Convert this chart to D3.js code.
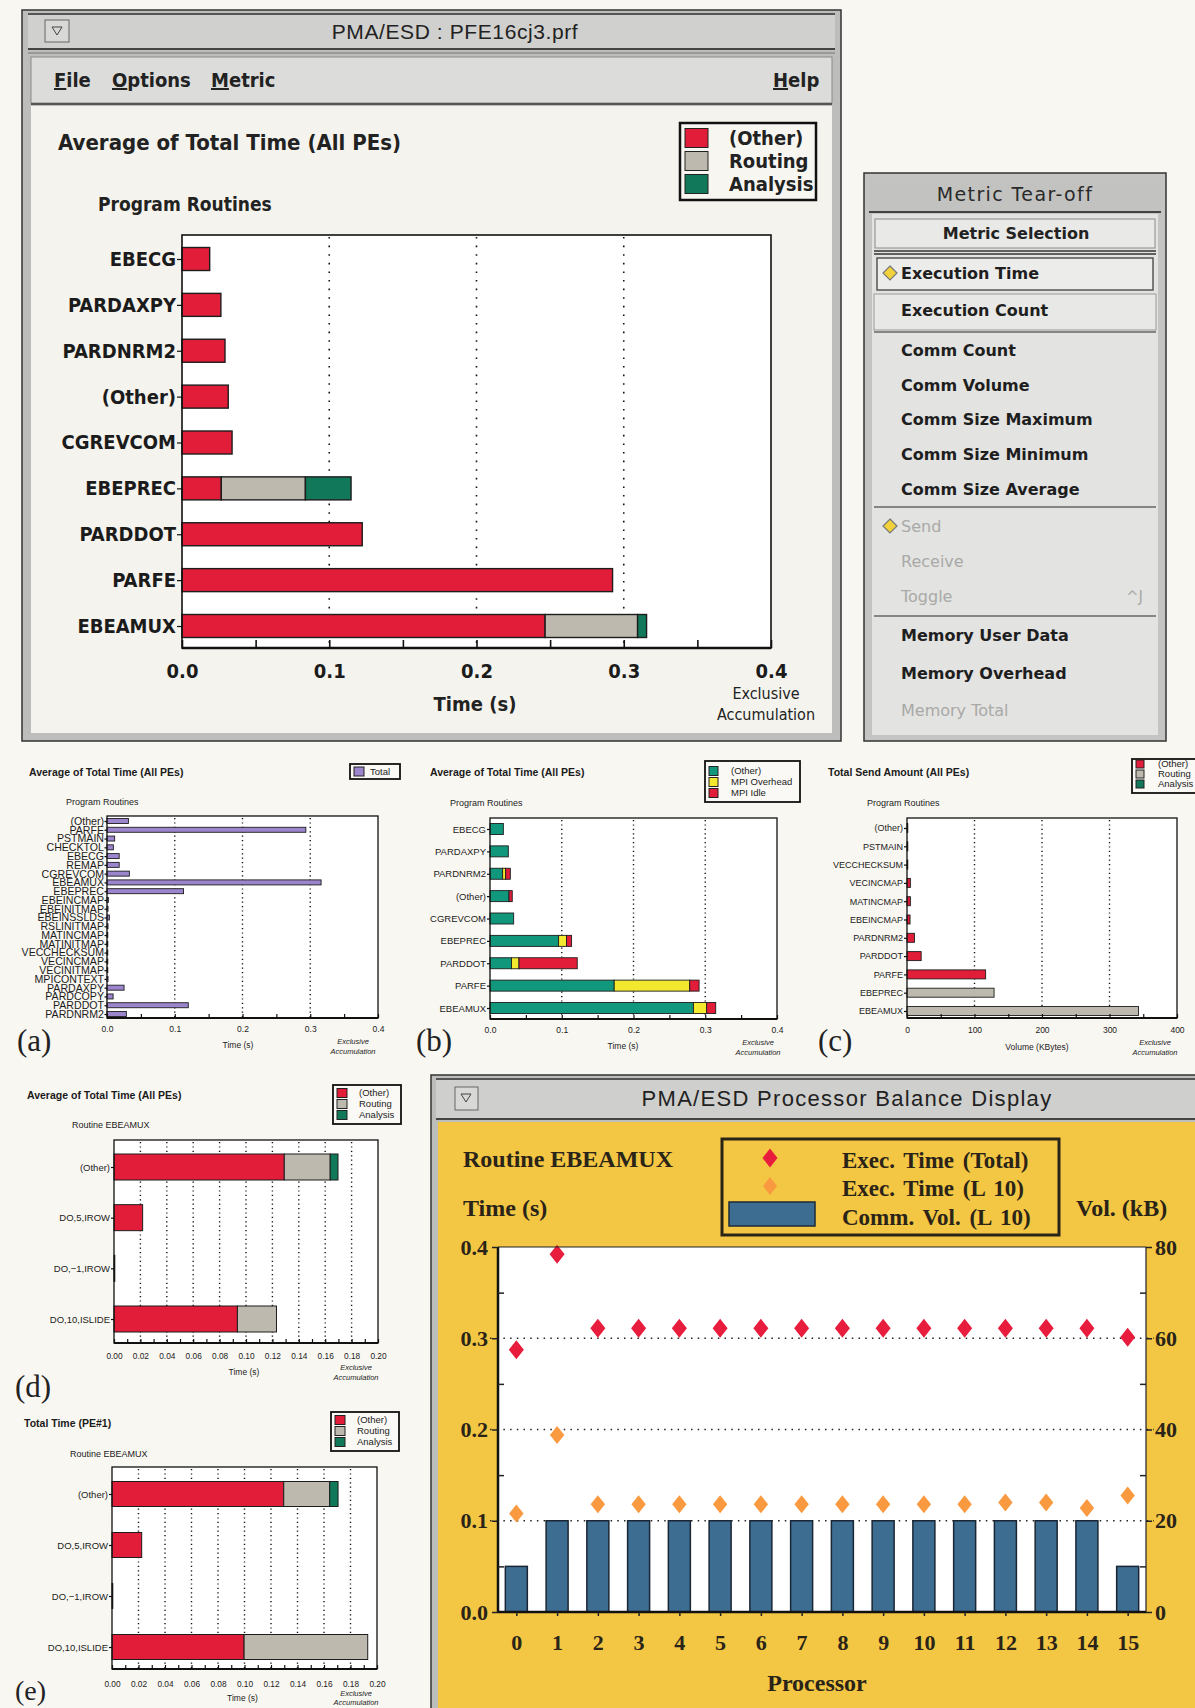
<!DOCTYPE html>
<html>
<head>
<meta charset="utf-8">
<script src="https://cdn.jsdelivr.net/npm/d3@7"></script>
<style>
  html, body { margin: 0; padding: 0; background: #f9f7f2; }
  svg { display: block; }
</style>
</head>
<body>
<svg id="fig" width="1195" height="1708"></svg>
<script>
// ---------------- data ----------------
// Main window: average of total time per routine (s), split by category
const mainRoutines = ["EBECG", "PARDAXPY", "PARDNRM2", "(Other)", "CGREVCOM", "EBEPREC", "PARDDOT", "PARFE", "EBEAMUX"];
const mainOther    = [0.0188, 0.0264, 0.0292, 0.0314, 0.0340, 0.0267, 0.1224, 0.2924, 0.2466];
const mainRouting  = [0, 0, 0, 0, 0, 0.0571, 0, 0, 0.0628];
const mainAnalysis = [0, 0, 0, 0, 0, 0.0310, 0, 0, 0.0061];
const timeTicks    = [0, 0.1, 0.2, 0.3, 0.4];

// (a) total time per routine
const aRoutines = ["(Other)", "PARFE", "PSTMAIN", "CHECKTOL", "EBECG", "REMAP", "CGREVCOM", "EBEAMUX", "EBEPREC",
  "EBEINCMAP", "EBEINITMAP", "EBEINSSLDS", "RSLINITMAP", "MATINCMAP", "MATINITMAP", "VECCHECKSUM", "VECINCMAP",
  "VECINITMAP", "MPICONTEXT", "PARDAXPY", "PARDCOPY", "PARDDOT", "PARDNRM2"];
const aTotal = [0.0316, 0.2935, 0.0113, 0.0094, 0.0180, 0.0180, 0.0330, 0.3160, 0.1130,
  0.0020, 0.0015, 0.0035, 0.0015, 0.0010, 0.0005, 0.0003, 0.0010,
  0.0005, 0.0015, 0.0252, 0.0090, 0.1200, 0.0286];

// (b) time split into computation and MPI
const bRoutines  = ["EBECG", "PARDAXPY", "PARDNRM2", "(Other)", "CGREVCOM", "EBEPREC", "PARDDOT", "PARFE", "EBEAMUX"];
const bOther     = [0.0186, 0.0255, 0.0176, 0.0265, 0.0330, 0.0956, 0.0300, 0.1731, 0.2835];
const bMpiOver   = [0, 0, 0.0042, 0, 0, 0.0111, 0.0104, 0.1053, 0.0185];
const bMpiIdle   = [0, 0, 0.0065, 0.0045, 0, 0.0070, 0.0812, 0.0130, 0.0126];

// (c) total send amount (KBytes)
const cRoutines = ["(Other)", "PSTMAIN", "VECCHECKSUM", "VECINCMAP", "MATINCMAP", "EBEINCMAP", "PARDNRM2", "PARDDOT", "PARFE", "EBEPREC", "EBEAMUX"];
const cOther    = [0.4, 0.4, 0.4, 5, 5, 4.5, 11, 21, 116.5, 0, 0];
const cRouting  = [0, 0, 0, 0, 0, 0, 0, 0, 0, 129, 343];
const cAnalysis = [0, 0, 0, 0, 0, 0, 0, 0, 0, 0, 0];
const volTicks  = [0, 100, 200, 300, 400];

// (d) loops of EBEAMUX, average of all PEs; (e) same loops on PE#1
const loops      = ["(Other)", "DO,5,IROW", "DO,\u22121,IROW", "DO,10,ISLIDE"];
const dOther     = [0.1290, 0.0217, 0.0006, 0.0935];
const dRouting   = [0.0348, 0, 0, 0.0296];
const dAnalysis  = [0.0059, 0, 0, 0];
const eOther     = [0.1296, 0.0224, 0.0006, 0.0997];
const eRouting   = [0.0347, 0, 0, 0.0933];
const eAnalysis  = [0.0063, 0, 0, 0];
const loopTicks  = [0, 0.02, 0.04, 0.06, 0.08, 0.10, 0.12, 0.14, 0.16, 0.18, 0.20];

// Processor balance for EBEAMUX
const processors = [0, 1, 2, 3, 4, 5, 6, 7, 8, 9, 10, 11, 12, 13, 14, 15];
const execTotal  = [0.2875, 0.392, 0.311, 0.311, 0.311, 0.311, 0.311, 0.311, 0.311, 0.311, 0.311, 0.311, 0.311, 0.311, 0.311, 0.301];
const execL10    = [0.108, 0.194, 0.118, 0.118, 0.118, 0.118, 0.118, 0.118, 0.118, 0.118, 0.118, 0.118, 0.120, 0.120, 0.114, 0.1276];
const commVolL10 = [10, 20, 20, 20, 20, 20, 20, 20, 20, 20, 20, 20, 20, 20, 20, 10];
const balTimeTicks = [0, 0.1, 0.2, 0.3, 0.4];
const balVolTicks  = [0, 20, 40, 60, 80];

// Metric tear-off menu entries
const metricItems = [
  { label: "Execution Time",    y: 279, on: true },
  { label: "Execution Count",   y: 316 },
  { label: "Comm Count",        y: 356 },
  { label: "Comm Volume",       y: 391 },
  { label: "Comm Size Maximum", y: 425 },
  { label: "Comm Size Minimum", y: 460 },
  { label: "Comm Size Average", y: 495 },
  { label: "Send",              y: 532, dim: true, on: true },
  { label: "Receive",           y: 567, dim: true },
  { label: "Toggle",            y: 602, dim: true, key: "^J" },
  { label: "Memory User Data",  y: 641 },
  { label: "Memory Overhead",   y: 679 },
  { label: "Memory Total",      y: 716, dim: true }
];

// ---------------- style ----------------
const NARROW = "'Liberation Sans Narrow','DejaVu Sans Condensed','Arial Narrow',sans-serif";
const SANS   = "'Liberation Sans',Arial,Helvetica,sans-serif";
const WIDE   = "'DejaVu Sans',Verdana,sans-serif";
const SERIF  = "'Liberation Serif','Times New Roman',serif";
const RED = "#e21d3a", GREY = "#bdb9af", GREEN = "#12785a";
const TEAL = "#11977c", YELLOW = "#f3e92e", PURPLE = "#9b85cd";
const STEEL = "#3e6d92", ORANGE = "#f99a40", DRED = "#e81c3c", GOLD = "#f3c643";

const svg = d3.select("#fig");

function txt(g, x, y, s, o = {}) {
  const t = g.append("text").attr("x", x).attr("y", y).text(s)
    .attr("font-family", o.ff || SANS).attr("font-size", o.fs || 10)
    .attr("font-weight", o.fw || "normal").attr("fill", o.fill || "#1b1b1b")
    .attr("text-anchor", o.anchor || "start");
  if (o.style) t.attr("font-style", o.style);
  if (o.ls != null) t.attr("letter-spacing", o.ls);
  if (o.ws != null) t.attr("word-spacing", o.ws);
  return t;
}

// Stacked horizontal bar chart with dotted vertical grid
function stackedHBar(g, o) {
  const x = d3.scaleLinear().domain(o.domain).range([o.left, o.right]);
  const y = d3.scalePoint().domain(o.cats).range([o.firstY, o.lastY]);

  g.append("rect").attr("x", o.left).attr("y", o.top)
    .attr("width", o.right - o.left).attr("height", o.bottom - o.top).attr("fill", "#fff");

  g.append("g").selectAll("line").data(o.grid).join("line")
    .attr("x1", d => x(d)).attr("x2", d => x(d))
    .attr("y1", o.top + 2).attr("y2", o.bottom)
    .attr("stroke", "#111").attr("stroke-width", o.gridW || 1.3)
    .attr("stroke-dasharray", o.gridDash || "1.3,4");

  const rows = o.cats.map((c, i) => {
    const r = { cat: c };
    o.series.forEach(s => { r[s.key] = s.values[i]; });
    return r;
  });
  const layers = d3.stack().keys(o.series.map(s => s.key))(rows);
  layers.forEach((layer, k) => {
    g.append("g").selectAll("rect").data(layer.filter(d => d[1] - d[0] > 0)).join("rect")
      .attr("x", d => x(d[0])).attr("width", d => Math.max(0.8, x(d[1]) - x(d[0])))
      .attr("y", d => y(d.data.cat) - o.barH / 2).attr("height", o.barH)
      .attr("fill", o.series[k].color).attr("stroke", "#1d1d1d").attr("stroke-width", o.barSW || 1);
  });

  // frame
  g.append("rect").attr("x", o.left).attr("y", o.top)
    .attr("width", o.right - o.left).attr("height", o.bottom - o.top)
    .attr("fill", "none").attr("stroke", "#111").attr("stroke-width", o.frameW || 1.3);
  g.append("line").attr("x1", o.left).attr("x2", o.right).attr("y1", o.bottom).attr("y2", o.bottom)
    .attr("stroke", "#111").attr("stroke-width", o.axisW || 2);

  // small ticks standing on the bottom axis
  const minorAxis = d3.axisBottom(x).tickValues(o.minor).tickSizeInner(-o.minorLen).tickSizeOuter(0).tickFormat("");
  g.append("g").attr("transform", `translate(0,${o.bottom})`).call(minorAxis)
    .call(a => a.select(".domain").remove())
    .selectAll("line").attr("stroke", "#111").attr("stroke-width", o.minorW || 1.2);

  // value labels
  const labAxis = d3.axisBottom(x).tickValues(o.ticks).tickFormat(d3.format(o.fmt))
    .tickSize(0).tickPadding(o.tickBase - o.bottom - 0.71 * o.tickFont.fs);
  const xa = g.append("g").attr("transform", `translate(0,${o.bottom})`).call(labAxis)
    .call(a => a.select(".domain").remove())
    .attr("font-family", o.tickFont.ff).attr("font-size", o.tickFont.fs).attr("font-weight", o.tickFont.fw || "normal");
  xa.selectAll("text").attr("fill", "#1b1b1b");

  // category labels
  const yAxis = d3.axisLeft(y).tickSize(o.yTickLen).tickPadding(o.yPad || 1);
  const ya = g.append("g").attr("transform", `translate(${o.left},0)`).call(yAxis)
    .call(a => a.select(".domain").remove())
    .attr("font-family", o.labelFont.ff).attr("font-size", o.labelFont.fs).attr("font-weight", o.labelFont.fw || "normal");
  ya.selectAll("line").attr("stroke", "#111").attr("stroke-width", 1.2);
  ya.selectAll("text").attr("fill", "#1b1b1b");
  if (o.labelFont.ls != null) ya.selectAll("text").attr("letter-spacing", o.labelFont.ls);
  return { x, y };
}

function legendBox(g, o) {
  g.append("rect").attr("x", o.x).attr("y", o.y).attr("width", o.w).attr("height", o.h)
    .attr("fill", o.bg || "#faf9f5").attr("stroke", "#111").attr("stroke-width", o.sw || 2);
  o.items.forEach((it, i) => {
    const cy = o.rows[i];
    g.append("rect").attr("x", o.swX).attr("y", cy - o.swH / 2).attr("width", o.swW).attr("height", o.swH)
      .attr("fill", it.color).attr("stroke", "#222").attr("stroke-width", 1);
    txt(g, o.textX, cy + o.font.fs * 0.36, it.label, o.font);
  });
}

function tickVals(a, b, step) {
  const n = Math.round((b - a) / step);
  return d3.range(n + 1).map(i => +(a + i * step).toFixed(6));
}

// ---------------- main window ----------------
const mw = svg.append("g");
mw.append("rect").attr("x", 22).attr("y", 10).attr("width", 819).attr("height", 731).attr("fill", "#bdbdbb").attr("stroke", "#333").attr("stroke-width", 1.5);
mw.append("rect").attr("x", 28).attr("y", 14).attr("width", 807).attr("height", 34).attr("fill", "#d0d0ce");
mw.append("line").attr("x1", 28).attr("x2", 835).attr("y1", 14).attr("y2", 14).attr("stroke", "#555").attr("stroke-width", 2);
mw.append("line").attr("x1", 28).attr("x2", 835).attr("y1", 49).attr("y2", 49).attr("stroke", "#444").attr("stroke-width", 2);
mw.append("line").attr("x1", 28).attr("x2", 835).attr("y1", 53).attr("y2", 53).attr("stroke", "#777").attr("stroke-width", 1);
mw.append("rect").attr("x", 45).attr("y", 20).attr("width", 24).attr("height", 22).attr("fill", "#d8d8d6").attr("stroke", "#666");
mw.append("path").attr("d", "M52,27 L62,27 L57,35 Z").attr("fill", "none").attr("stroke", "#444").attr("stroke-width", 1);
txt(mw, 455, 39, "PMA/ESD : PFE16cj3.prf", { ff: SANS, fs: 21, anchor: "middle", ls: 0.6, fill: "#222" });
mw.append("rect").attr("x", 31).attr("y", 57).attr("width", 801).attr("height", 46).attr("fill", "#dcdcda").attr("stroke", "#8a8a8a");
mw.append("line").attr("x1", 31).attr("x2", 832).attr("y1", 104).attr("y2", 104).attr("stroke", "#555").attr("stroke-width", 2);
[["File", 54], ["Options", 112], ["Metric", 211], ["Help", 773]].forEach(([m, mx]) => {
  const t = mw.append("text").attr("x", mx).attr("y", 87).attr("font-family", NARROW).attr("font-size", 20)
    .attr("font-weight", "bold").attr("fill", "#222");
  t.append("tspan").attr("text-decoration", "underline").text(m[0]);
  t.append("tspan").text(m.slice(1));
});
mw.append("rect").attr("x", 31).attr("y", 106).attr("width", 801).attr("height", 627).attr("fill", "#f5f3ed");

txt(mw, 58, 150, "Average of Total Time (All PEs)", { ff: NARROW, fs: 22, fw: "bold", fill: "#222" });
txt(mw, 98, 211, "Program Routines", { ff: NARROW, fs: 19, fw: "bold", fill: "#222" });
legendBox(mw, {
  x: 680, y: 123, w: 136, h: 77, sw: 2.5, bg: "#f7f6f1",
  swX: 685, swW: 23, swH: 19, rows: [138, 161, 184], textX: 729,
  font: { ff: NARROW, fs: 20, fw: "bold", fill: "#222" },
  items: [{ label: "(Other)", color: RED }, { label: "Routing", color: GREY }, { label: "Analysis", color: GREEN }]
});
stackedHBar(mw, {
  left: 182, right: 771, top: 235, bottom: 648, firstY: 259, lastY: 626, barH: 23,
  cats: mainRoutines, domain: [0, 0.4],
  series: [{ key: "other", color: RED, values: mainOther }, { key: "routing", color: GREY, values: mainRouting }, { key: "analysis", color: GREEN, values: mainAnalysis }],
  grid: [0.1, 0.2, 0.3], gridDash: "1.6,7", gridW: 1.6,
  ticks: timeTicks, fmt: ".1f", minor: tickVals(0, 0.4, 0.05), minorLen: 8, minorW: 1.6,
  tickBase: 678, tickFont: { ff: NARROW, fs: 20, fw: "bold" },
  labelFont: { ff: NARROW, fs: 20, fw: "bold" }, yTickLen: 5, yPad: 1,
  frameW: 1.6, axisW: 2.6, barSW: 1.4
});
txt(mw, 475, 711, "Time (s)", { ff: NARROW, fs: 20, fw: "bold", anchor: "middle", fill: "#222" });
txt(mw, 766, 699, "Exclusive", { ff: NARROW, fs: 16, anchor: "middle", fill: "#222" });
txt(mw, 766, 720, "Accumulation", { ff: NARROW, fs: 16, anchor: "middle", fill: "#222" });

// ---------------- metric tear-off ----------------
const tw = svg.append("g");
tw.append("rect").attr("x", 864).attr("y", 173).attr("width", 302).attr("height", 568).attr("fill", "#c4c4c2").attr("stroke", "#333").attr("stroke-width", 1.5);
tw.append("rect").attr("x", 869).attr("y", 177).attr("width", 292).attr("height", 34).attr("fill", "#c2c2c0");
tw.append("line").attr("x1", 869).attr("x2", 1161).attr("y1", 212).attr("y2", 212).attr("stroke", "#444").attr("stroke-width", 2);
txt(tw, 1015, 201, "Metric Tear-off", { ff: WIDE, fs: 19, anchor: "middle", ls: 1.4, fill: "#2a2a2a" });
tw.append("rect").attr("x", 872).attr("y", 214).attr("width", 286).attr("height", 521).attr("fill", "#e3e3e1");
tw.append("rect").attr("x", 875).attr("y", 219).attr("width", 280).attr("height", 29).attr("fill", "#e9e9e7").attr("stroke", "#8a8a88");
tw.append("line").attr("x1", 874).attr("x2", 1156).attr("y1", 251).attr("y2", 251).attr("stroke", "#333").attr("stroke-width", 1.5);
tw.append("line").attr("x1", 874).attr("x2", 1156).attr("y1", 254).attr("y2", 254).attr("stroke", "#333").attr("stroke-width", 1.5);
txt(tw, 1016, 239, "Metric Selection", { ff: WIDE, fs: 16, fw: "bold", anchor: "middle", fill: "#222" });
tw.append("rect").attr("x", 877).attr("y", 258).attr("width", 276).attr("height", 32).attr("fill", "#ececea").attr("stroke", "#555").attr("stroke-width", 1.5);
tw.append("rect").attr("x", 874).attr("y", 294).attr("width", 282).attr("height", 36).attr("fill", "#e8e8e6").attr("stroke", "#999");
[[874, 1156, 332], [874, 1156, 507], [874, 1156, 616]].forEach(([a, b, yy]) => {
  tw.append("line").attr("x1", a).attr("x2", b).attr("y1", yy).attr("y2", yy).attr("stroke", "#666").attr("stroke-width", 1.5);
});
metricItems.forEach(it => {
  txt(tw, 901, it.y, it.label, { ff: WIDE, fs: 16, fw: it.dim ? "normal" : "bold", fill: it.dim ? "#a9a9a7" : "#1e1e1e" });
  if (it.on) {
    const cx = 890, cy = it.y - 6;
    tw.append("path").attr("d", `M${cx},${cy - 7} L${cx + 7},${cy} L${cx},${cy + 7} L${cx - 7},${cy} Z`)
      .attr("fill", "#f1d23c").attr("stroke", "#777").attr("stroke-width", 1.2);
  }
  if (it.key) txt(tw, 1143, it.y, it.key, { ff: WIDE, fs: 15, anchor: "end", fill: "#a9a9a7" });
});

// ---------------- panel (a) ----------------
const pa = svg.append("g");
txt(pa, 29, 776, "Average of Total Time (All PEs)", { fs: 10.5, fw: "bold" });
txt(pa, 66, 805, "Program Routines", { fs: 9 });
legendBox(pa, {
  x: 350, y: 764, w: 50, h: 15, sw: 1.8, swX: 354, swW: 10, swH: 9, rows: [771.5], textX: 370,
  font: { fs: 9.5 }, items: [{ label: "Total", color: PURPLE }]
});
stackedHBar(pa, {
  left: 107, right: 378, top: 816, bottom: 1018, firstY: 821, lastY: 1014, barH: 5,
  cats: aRoutines, domain: [0, 0.4], series: [{ key: "total", color: PURPLE, values: aTotal }],
  grid: [0.1, 0.2, 0.3], gridDash: "1.2,3.2", gridW: 1.4,
  ticks: timeTicks, fmt: ".1f", minor: tickVals(0, 0.4, 0.05), minorLen: 4,
  tickBase: 1032, tickFont: { ff: SANS, fs: 8.5 },
  labelFont: { ff: SANS, fs: 10.6 }, yTickLen: 2.5, yPad: 0.5, barSW: 0.9
});
txt(pa, 238, 1048, "Time (s)", { fs: 8.5, anchor: "middle" });
txt(pa, 353, 1044, "Exclusive", { fs: 7.5, style: "italic", anchor: "middle" });
txt(pa, 353, 1054, "Accumulation", { fs: 7.5, style: "italic", anchor: "middle" });
txt(pa, 17, 1051, "(a)", { ff: SERIF, fs: 31, fill: "#222" });

// ---------------- panel (b) ----------------
const pb = svg.append("g");
txt(pb, 430, 776, "Average of Total Time (All PEs)", { fs: 10.5, fw: "bold" });
txt(pb, 450, 806, "Program Routines", { fs: 9 });
legendBox(pb, {
  x: 705, y: 761, w: 95, h: 41, sw: 1.8, swX: 709, swW: 9, swH: 9, rows: [771, 782, 793], textX: 731,
  font: { fs: 9.5 }, items: [{ label: "(Other)", color: TEAL }, { label: "MPI Overhead", color: YELLOW }, { label: "MPI Idle", color: RED }]
});
stackedHBar(pb, {
  left: 490, right: 777, top: 818, bottom: 1019, firstY: 829, lastY: 1008, barH: 11,
  cats: bRoutines, domain: [0, 0.4],
  series: [{ key: "other", color: TEAL, values: bOther }, { key: "over", color: YELLOW, values: bMpiOver }, { key: "idle", color: RED, values: bMpiIdle }],
  grid: [0.1, 0.2, 0.3], gridDash: "1.2,3.2", gridW: 1.4,
  ticks: timeTicks, fmt: ".1f", minor: tickVals(0, 0.4, 0.05), minorLen: 4,
  tickBase: 1033, tickFont: { ff: SANS, fs: 8.5 },
  labelFont: { ff: SANS, fs: 9.5 }, yTickLen: 3, yPad: 1, barSW: 0.9
});
txt(pb, 623, 1049, "Time (s)", { fs: 8.5, anchor: "middle" });
txt(pb, 758, 1045, "Exclusive", { fs: 7.5, style: "italic", anchor: "middle" });
txt(pb, 758, 1055, "Accumulation", { fs: 7.5, style: "italic", anchor: "middle" });
txt(pb, 416, 1051, "(b)", { ff: SERIF, fs: 31, fill: "#222" });

// ---------------- panel (c) ----------------
const pc = svg.append("g");
txt(pc, 828, 776, "Total Send Amount (All PEs)", { fs: 10.5, fw: "bold" });
txt(pc, 867, 806, "Program Routines", { fs: 9 });
legendBox(pc, {
  x: 1132, y: 759, w: 70, h: 34, sw: 1.8, swX: 1136, swW: 8, swH: 8, rows: [764, 774, 784], textX: 1158,
  font: { fs: 9.5 }, items: [{ label: "(Other)", color: RED }, { label: "Routing", color: GREY }, { label: "Analysis", color: GREEN }]
});
stackedHBar(pc, {
  left: 907, right: 1177, top: 818, bottom: 1018, firstY: 828, lastY: 1011, barH: 9,
  cats: cRoutines, domain: [0, 400],
  series: [{ key: "other", color: RED, values: cOther }, { key: "routing", color: GREY, values: cRouting }, { key: "analysis", color: GREEN, values: cAnalysis }],
  grid: [100, 200, 300], gridDash: "1.2,3.2", gridW: 1.4,
  ticks: volTicks, fmt: "d", minor: tickVals(0, 400, 50), minorLen: 4,
  tickBase: 1033, tickFont: { ff: SANS, fs: 8.5 },
  labelFont: { ff: SANS, fs: 9 }, yTickLen: 3, yPad: 1, barSW: 0.9
});
txt(pc, 1037, 1050, "Volume (KBytes)", { fs: 8.5, anchor: "middle" });
txt(pc, 1155, 1045, "Exclusive", { fs: 7.5, style: "italic", anchor: "middle" });
txt(pc, 1155, 1055, "Accumulation", { fs: 7.5, style: "italic", anchor: "middle" });
txt(pc, 818, 1051, "(c)", { ff: SERIF, fs: 31, fill: "#222" });

// ---------------- panels (d) and (e) ----------------
function loopPanel(g, o) {
  txt(g, o.titleX, o.titleY, o.title, { fs: 10.5, fw: "bold" });
  txt(g, o.subX, o.subY, "Routine EBEAMUX", { fs: 9 });
  legendBox(g, {
    x: o.legX, y: o.legY, w: 68, h: 39, sw: 1.8, swX: o.legX + 4, swW: 10, swH: 9,
    rows: [o.legY + 8, o.legY + 19, o.legY + 30], textX: o.legX + 26, font: { fs: 9.5 },
    items: [{ label: "(Other)", color: RED }, { label: "Routing", color: GREY }, { label: "Analysis", color: GREEN }]
  });
  stackedHBar(g, {
    left: o.left, right: o.right, top: o.top, bottom: o.bottom, firstY: o.firstY, lastY: o.lastY, barH: o.barH,
    cats: loops, domain: [0, 0.2],
    series: [{ key: "other", color: RED, values: o.other }, { key: "routing", color: GREY, values: o.routing }, { key: "analysis", color: GREEN, values: o.analysis }],
    grid: tickVals(0.02, 0.18, 0.02), gridDash: "1.2,3.2", gridW: 1.4,
    ticks: loopTicks, fmt: ".2f", minor: tickVals(0, 0.2, 0.01), minorLen: 4,
    tickBase: o.tickBase, tickFont: { ff: SANS, fs: 8.3 },
    labelFont: { ff: SANS, fs: 9.5 }, yTickLen: 3, yPad: 1, barSW: 1
  });
  txt(g, (o.left + o.right) / 2 - 2, o.tickBase + o.timeDy, "Time (s)", { fs: 8.5, anchor: "middle" });
  txt(g, 356, o.tickBase + o.exDy, "Exclusive", { fs: 7.5, style: "italic", anchor: "middle" });
  txt(g, 356, o.tickBase + o.exDy + o.exGap, "Accumulation", { fs: 7.5, style: "italic", anchor: "middle" });
  txt(g, 15, o.letterY, o.letter, { ff: SERIF, fs: o.letterFs, fill: "#222" });
}
loopPanel(svg.append("g"), {
  title: "Average of Total Time (All PEs)", titleX: 27, titleY: 1099, subX: 72, subY: 1128,
  legX: 333, legY: 1085, left: 114, right: 378, top: 1140, bottom: 1343, firstY: 1167, lastY: 1319, barH: 26,
  other: dOther, routing: dRouting, analysis: dAnalysis, tickBase: 1359,
  timeDy: 16, exDy: 11, exGap: 10, letter: "(d)", letterY: 1397, letterFs: 31
});
loopPanel(svg.append("g"), {
  title: "Total Time (PE#1)", titleX: 24, titleY: 1427, subX: 70, subY: 1457,
  legX: 331, legY: 1412, left: 112, right: 377, top: 1467, bottom: 1669, firstY: 1494, lastY: 1647, barH: 25,
  other: eOther, routing: eRouting, analysis: eAnalysis, tickBase: 1687,
  timeDy: 14, exDy: 9, exGap: 9, letter: "(e)", letterY: 1700, letterFs: 28
});

// ---------------- processor balance window ----------------
const bw = svg.append("g");
bw.append("rect").attr("x", 431).attr("y", 1075).attr("width", 780).attr("height", 650).attr("fill", "#bdbdbb").attr("stroke", "#333").attr("stroke-width", 1.5);
bw.append("rect").attr("x", 436).attr("y", 1079).attr("width", 770).attr("height", 39).attr("fill", "#cfcfcd");
bw.append("line").attr("x1", 436).attr("x2", 1195).attr("y1", 1079).attr("y2", 1079).attr("stroke", "#555").attr("stroke-width", 2);
bw.append("line").attr("x1", 436).attr("x2", 1195).attr("y1", 1119).attr("y2", 1119).attr("stroke", "#444").attr("stroke-width", 2);
bw.append("rect").attr("x", 455).attr("y", 1087).attr("width", 23).attr("height", 23).attr("fill", "#d8d8d6").attr("stroke", "#666");
bw.append("path").attr("d", "M461,1094 L471,1094 L466,1102 Z").attr("fill", "none").attr("stroke", "#444");
txt(bw, 847, 1106, "PMA/ESD Processor Balance Display", { ff: SANS, fs: 22, anchor: "middle", ls: 1.3, fill: "#222" });
bw.append("rect").attr("x", 438).attr("y", 1122).attr("width", 760).attr("height", 600).attr("fill", GOLD);

txt(bw, 463, 1167, "Routine EBEAMUX", { ff: SERIF, fs: 24, fw: "bold", fill: "#2a2418" });
txt(bw, 463, 1216, "Time (s)", { ff: SERIF, fs: 24, fw: "bold", fill: "#2a2418" });
txt(bw, 1076, 1216, "Vol. (kB)", { ff: SERIF, fs: 24, fw: "bold", fill: "#2a2418" });

// legend
bw.append("rect").attr("x", 722).attr("y", 1139).attr("width", 337).attr("height", 96).attr("fill", "none").attr("stroke", "#2a2418").attr("stroke-width", 3);
const diamond = (hw, hh) => `M0,${-hh} L${hw},0 L0,${hh} L${-hw},0 Z`;
bw.append("path").attr("d", diamond(7.5, 9.5)).attr("transform", "translate(770,1158)").attr("fill", DRED);
bw.append("path").attr("d", diamond(7, 9)).attr("transform", "translate(770,1186)").attr("fill", ORANGE);
bw.append("rect").attr("x", 729).attr("y", 1202).attr("width", 86).attr("height", 24).attr("fill", STEEL).attr("stroke", "#1c2a38").attr("stroke-width", 1.5);
txt(bw, 842, 1168, "Exec.  Time (Total)", { ff: SERIF, fs: 23, fw: "bold", fill: "#2a2418", ws: 3 });
txt(bw, 842, 1196, "Exec.  Time (L 10)", { ff: SERIF, fs: 23, fw: "bold", fill: "#2a2418", ws: 3 });
txt(bw, 842, 1225, "Comm. Vol. (L 10)", { ff: SERIF, fs: 23, fw: "bold", fill: "#2a2418", ws: 3 });

// plot
const pL = 498, pR = 1146, pT = 1247, pB = 1612;
const px = d3.scalePoint().domain(processors).range([pL, pR]).padding(0.45);
const yT = d3.scaleLinear().domain([0, 0.4]).range([pB, pT]);
const yV = d3.scaleLinear().domain([0, 80]).range([pB, pT]);

bw.append("rect").attr("x", pL).attr("y", pT).attr("width", pR - pL).attr("height", pB - pT).attr("fill", "#fff");
bw.append("g").selectAll("line").data([0.1, 0.2, 0.3]).join("line")
  .attr("x1", pL - 8).attr("x2", pR + 8).attr("y1", d => yT(d)).attr("y2", d => yT(d))
  .attr("stroke", "#222").attr("stroke-width", 1.5).attr("stroke-dasharray", "1.5,5.2");

bw.append("g").selectAll("rect").data(processors).join("rect")
  .attr("x", d => px(d) - 11).attr("width", 22)
  .attr("y", (d, i) => yV(commVolL10[i])).attr("height", (d, i) => pB - yV(commVolL10[i]))
  .attr("fill", STEEL).attr("stroke", "#1a2634").attr("stroke-width", 1.5);

bw.append("g").selectAll("path").data(processors).join("path")
  .attr("d", diamond(7.2, 9))
  .attr("transform", (d, i) => `translate(${px(d)},${yT(execL10[i])})`).attr("fill", ORANGE);
bw.append("g").selectAll("path").data(processors).join("path")
  .attr("d", diamond(7.5, 9.5))
  .attr("transform", (d, i) => `translate(${px(d)},${yT(execTotal[i])})`).attr("fill", DRED);

// frame lines
bw.append("line").attr("x1", pL).attr("x2", pR).attr("y1", pT).attr("y2", pT).attr("stroke", "#222").attr("stroke-width", 1.2);
bw.append("line").attr("x1", pR).attr("x2", pR).attr("y1", pT).attr("y2", pB).attr("stroke", "#222").attr("stroke-width", 1.2);
bw.append("line").attr("x1", pL).attr("x2", pL).attr("y1", pT).attr("y2", pB + 1).attr("stroke", "#111").attr("stroke-width", 2.5);
bw.append("line").attr("x1", pL).attr("x2", pR).attr("y1", pB).attr("y2", pB).attr("stroke", "#111").attr("stroke-width", 2.5);

// left axis: time
const leftAxis = d3.axisLeft(yT).tickValues(balTimeTicks).tickFormat(d3.format(".1f")).tickSize(6).tickPadding(4);
const la = bw.append("g").attr("transform", `translate(${pL},0)`).call(leftAxis)
  .call(a => a.select(".domain").remove())
  .attr("font-family", SERIF).attr("font-size", 22).attr("font-weight", "bold");
la.selectAll("text").attr("fill", "#2a2418");
la.selectAll("line").attr("stroke", "#222").attr("stroke-width", 1.5);
bw.append("g").attr("transform", `translate(${pL},0)`)
  .call(d3.axisLeft(yT).tickValues([0.05, 0.15, 0.25, 0.35]).tickSize(-6).tickFormat(""))
  .call(a => a.select(".domain").remove()).selectAll("line").attr("stroke", "#222").attr("stroke-width", 1.5);

// right axis: volume
const rightAxis = d3.axisRight(yV).tickValues(balVolTicks).tickFormat(d3.format("d")).tickSize(6).tickPadding(3);
const ra = bw.append("g").attr("transform", `translate(${pR},0)`).call(rightAxis)
  .call(a => a.select(".domain").remove())
  .attr("font-family", SERIF).attr("font-size", 22).attr("font-weight", "bold");
ra.selectAll("text").attr("fill", "#2a2418");
ra.selectAll("line").attr("stroke", "#222").attr("stroke-width", 1.5);
bw.append("g").attr("transform", `translate(${pR},0)`)
  .call(d3.axisRight(yV).tickValues([10, 30, 50, 70]).tickSize(-6).tickFormat(""))
  .call(a => a.select(".domain").remove()).selectAll("line").attr("stroke", "#222").attr("stroke-width", 1.5);

// bottom axis: processors
const botAxis = d3.axisBottom(px).tickSize(4).tickPadding(18);
const ba = bw.append("g").attr("transform", `translate(0,${pB})`).call(botAxis)
  .call(a => a.select(".domain").remove())
  .attr("font-family", SERIF).attr("font-size", 22).attr("font-weight", "bold");
ba.selectAll("text").attr("fill", "#2a2418");
ba.selectAll("line").attr("stroke", "#222").attr("stroke-width", 1.5);
txt(bw, 817, 1691, "Processor", { ff: SERIF, fs: 24, fw: "bold", anchor: "middle", fill: "#2a2418" });
</script>
</body>
</html>
